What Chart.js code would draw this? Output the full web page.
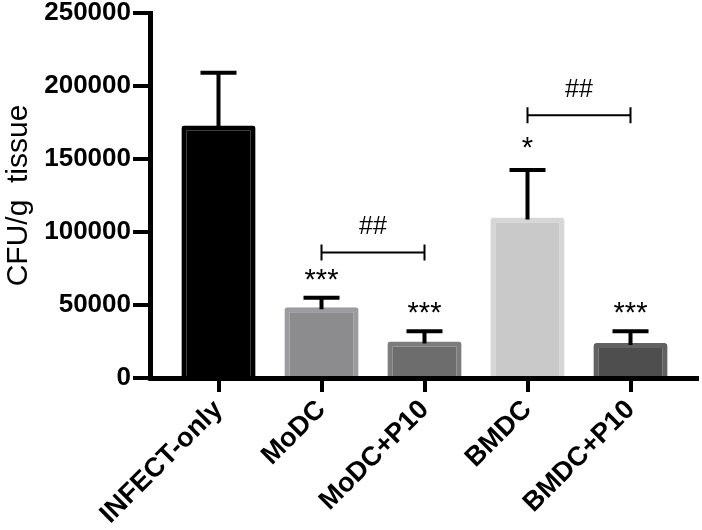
<!DOCTYPE html>
<html>
<head>
<meta charset="utf-8">
<script src="https://cdn.jsdelivr.net/npm/chart.js@4.4.0/dist/chart.umd.min.js"></script>
<style>
  html, body { margin: 0; padding: 0; background: #fff; }
  #wrap { width: 702px; height: 530px; }
</style>
</head>
<body>
<div id="wrap"><canvas id="cfuChart" width="702" height="530"></canvas></div>
<script>
// group names on the x axis
const groups = ["INFECT-only", "MoDC", "MoDC+P10", "BMDC", "BMDC+P10"];
// mean CFU/g tissue and the upper error (SEM)
const meanCfu = [173000, 48500, 25000, 110000, 24000];
const semCfu = [36000, 6500, 7000, 32500, 8000];
// significance marks vs INFECT-only
const sigMarks = ["", "***", "***", "*", "***"];
// ## comparisons: [from group, to group, bracket level]
const hashPairs = [[1, 2, 86000], [3, 4, 180000]];
const yTicks = [0, 50000, 100000, 150000, 200000, 250000];

const fillColors = ["#000000", "#8c8c8e", "#6d6d6d", "#c9c9c9", "#4e4e4e"];
const edgeColors = ["#000000", "#9c9c9e", "#7c7c7c", "#d6d6d6", "#626262"];

// axes, y ticks, error bars and annotations
const decorPlugin = {
  id: "decor",
  afterDatasetsDraw(chart) {
    const ctx = chart.ctx;
    const x = chart.scales.x;
    const y = chart.scales.y;
    const axisX = 150.5;
    const axisY = y.getPixelForValue(0) + 0.5;
    ctx.save();
    ctx.strokeStyle = "#000";
    ctx.fillStyle = "#000";

    // error bars (upper only)
    ctx.lineWidth = 4;
    meanCfu.forEach((m, i) => {
      const cx = x.getPixelForValue(i);
      const top = y.getPixelForValue(m + semCfu[i]);
      ctx.beginPath();
      ctx.moveTo(cx, y.getPixelForValue(m) + 2);
      ctx.lineTo(cx, top);
      ctx.moveTo(cx - 18, top);
      ctx.lineTo(cx + 18, top);
      ctx.stroke();
    });

    // axis lines
    ctx.lineWidth = 5;
    ctx.beginPath();
    ctx.moveTo(axisX, y.getPixelForValue(250000) - 2);
    ctx.lineTo(axisX, axisY + 2);
    ctx.moveTo(axisX - 2, axisY);
    ctx.lineTo(699, axisY);
    ctx.stroke();

    // y tick marks
    ctx.lineWidth = 4;
    yTicks.forEach(v => {
      const py = y.getPixelForValue(v);
      ctx.beginPath();
      ctx.moveTo(133, py);
      ctx.lineTo(axisX, py);
      ctx.stroke();
    });

    // stars
    ctx.font = "29px 'Liberation Sans', Arial, sans-serif";
    ctx.textAlign = "center";
    ctx.textBaseline = "alphabetic";
    sigMarks.forEach((s, i) => {
      if (!s) return;
      const cx = x.getPixelForValue(i);
      const top = y.getPixelForValue(meanCfu[i] + semCfu[i]);
      ctx.fillText(s, cx, top - (s.length === 1 ? 13 : 9));
    });

    // ## brackets
    ctx.lineWidth = 2;
    ctx.font = "25px 'Liberation Sans', Arial, sans-serif";
    hashPairs.forEach(([a, b, lvl]) => {
      const x1 = x.getPixelForValue(a);
      const x2 = x.getPixelForValue(b);
      const py = y.getPixelForValue(lvl);
      ctx.beginPath();
      ctx.moveTo(x1, py);
      ctx.lineTo(x2, py);
      ctx.moveTo(x1, py - 8);
      ctx.lineTo(x1, py + 8);
      ctx.moveTo(x2, py - 8);
      ctx.lineTo(x2, py + 8);
      ctx.stroke();
      ctx.fillText("##", (x1 + x2) / 2, py - 18);
    });
    ctx.restore();
  }
};

new Chart(document.getElementById("cfuChart"), {
  type: "bar",
  data: {
    labels: groups,
    datasets: [{
      data: meanCfu,
      backgroundColor: fillColors,
      borderColor: edgeColors,
      borderWidth: 5,
      borderRadius: 3,
      borderSkipped: "start",
      categoryPercentage: 1,
      barPercentage: 0.72
    }]
  },
  options: {
    responsive: false,
    animation: false,
    devicePixelRatio: 1,
    layout: { padding: { left: 0, right: 20, top: 13, bottom: 0 } },
    plugins: { legend: { display: false }, tooltip: { enabled: false } },
    scales: {
      x: {
        offset: true,
        afterFit: s => { s.height = 152; },
        border: { display: false },
        grid: {
          offset: false,
          drawOnChartArea: false,
          color: "#000",
          lineWidth: 4,
          tickLength: 14
        },
        ticks: {
          color: "#000",
          minRotation: 45,
          maxRotation: 45,
          padding: 2,
          font: { family: "'Liberation Sans', Arial, sans-serif", size: 27, weight: "bold" }
        }
      },
      y: {
        min: 0,
        max: 250000,
        afterFit: s => { s.width = 167; s.paddingTop = 0; s.paddingBottom = 0; },
        border: { display: false },
        grid: { display: false, drawTicks: false },
        ticks: {
          stepSize: 50000,
          color: "#000",
          padding: 36,
          callback: v => String(v),
          font: { family: "'Liberation Sans', Arial, sans-serif", size: 26, weight: "bold" }
        },
        title: {
          display: true,
          text: "CFU/g  tissue",
          color: "#000",
          padding: { top: 1, bottom: 0 },
          font: { family: "'Liberation Sans', Arial, sans-serif", size: 30 }
        }
      }
    }
  },
  plugins: [decorPlugin]
});
</script>
</body>
</html>
